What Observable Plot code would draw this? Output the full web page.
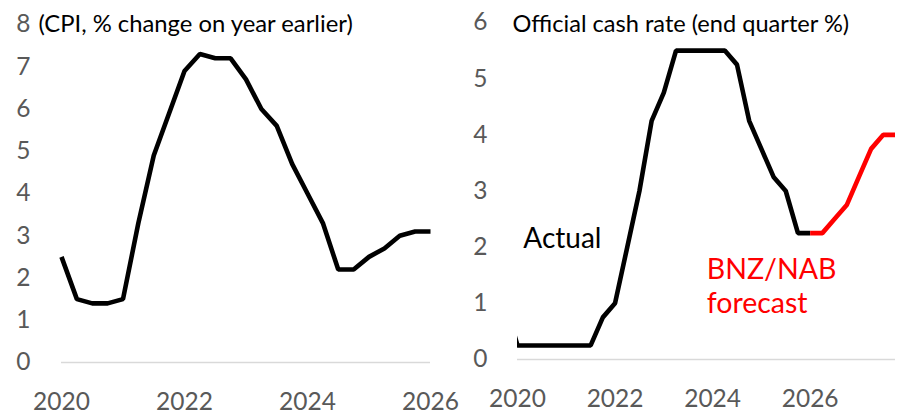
<!DOCTYPE html>
<html>
<head>
<meta charset="utf-8">
<script src="https://cdn.jsdelivr.net/npm/d3@7"></script>
<script src="https://cdn.jsdelivr.net/npm/@observablehq/plot@0.6"></script>
<style>
  html, body { margin: 0; padding: 0; background: #fff; }
  #wrap { position: relative; width: 902px; height: 414px; overflow: hidden; font-family: Lato, sans-serif; }
  #left, #right { position: absolute; top: 0; }
  #left { left: 0; }
  #right { left: 450px; }
  svg { overflow: visible; }
</style>
</head>
<body>
<div id="wrap"><div id="left"></div><div id="right"></div></div>
<script>
// ---- Data ----
const cpiQuarters = ["2020Q1","2020Q2","2020Q3","2020Q4","2021Q1","2021Q2","2021Q3","2021Q4",
  "2022Q1","2022Q2","2022Q3","2022Q4","2023Q1","2023Q2","2023Q3","2023Q4",
  "2024Q1","2024Q2","2024Q3","2024Q4","2025Q1","2025Q2","2025Q3","2025Q4","2026Q1"];
const cpiValues = [2.5,1.5,1.4,1.4,1.5,3.3,4.9,5.9,6.9,7.3,7.2,7.2,6.7,6.0,5.6,4.7,4.0,3.3,2.2,2.2,2.5,2.7,3.0,3.1,3.1];

const ocrActualQuarters = ["2019Q4","2020Q1","2020Q2","2020Q3","2020Q4","2021Q1","2021Q2","2021Q3","2021Q4",
  "2022Q1","2022Q2","2022Q3","2022Q4","2023Q1","2023Q2","2023Q3","2023Q4",
  "2024Q1","2024Q2","2024Q3","2024Q4","2025Q1","2025Q2","2025Q3","2025Q4","2026Q1"];
const ocrActualValues = [1.0,0.25,0.25,0.25,0.25,0.25,0.25,0.25,0.75,1.0,2.0,3.0,4.25,4.75,5.5,5.5,5.5,5.5,5.5,5.25,4.25,3.75,3.25,3.0,2.25,2.25];

const ocrForecastQuarters = ["2026Q1","2026Q2","2026Q3","2026Q4","2027Q1","2027Q2","2027Q3","2027Q4"];
const ocrForecastValues = [2.25,2.25,2.5,2.75,3.25,3.75,4.0,4.0];

const xTicks = [2020, 2022, 2024, 2026];
const cpiYTicks = [0,1,2,3,4,5,6,7,8];
const ocrYTicks = [0,1,2,3,4,5,6];

const leftTitle = "(CPI, % change on year earlier)";
const rightTitle = "Official cash rate (end quarter %)";
const actualLabel = "Actual";
const forecastLabel = "BNZ/NAB\nforecast";

// quarter string -> decimal year (Q1 plotted at the year mark)
const qx = s => +s.slice(0,4) + (+s.slice(5) - 1) / 4;

const cpi = cpiQuarters.map((q,i) => ({x: qx(q), y: cpiValues[i]}));
const ocrA = ocrActualQuarters.map((q,i) => ({x: qx(q), y: ocrActualValues[i]}));
const ocrF = ocrForecastQuarters.map((q,i) => ({x: qx(q), y: ocrForecastValues[i]}));

const tickColor = "#595959";
const red = "#ff0000";
const fmt = d => String(d);

const left = Plot.plot({
  width: 450, height: 414,
  marginLeft: 61, marginRight: 20, marginTop: 24, marginBottom: 52,
  style: {background: "transparent", fontFamily: "Lato, sans-serif", overflow: "visible"},
  x: {domain: [2020, 2026], ticks: xTicks, tickFormat: fmt, label: null},
  y: {domain: [0, 8], ticks: cpiYTicks, tickFormat: fmt, label: null},
  marks: [
    Plot.ruleY([0], {stroke: "#d9d9d9", strokeWidth: 1.5}),
    Plot.axisX({ticks: xTicks, tickSize: 0, tickPadding: 30, fontSize: 24.5, fill: tickColor, tickFormat: fmt, label: null}),
    Plot.axisY({ticks: cpiYTicks, tickSize: 0, tickPadding: 31, fontSize: 24.5, fill: tickColor, tickFormat: fmt, label: null}),
    Plot.line(cpi, {x: "x", y: "y", stroke: "#000", strokeWidth: 4.6, strokeLinejoin: "miter", strokeLinecap: "butt"}),
    Plot.text([leftTitle], {frameAnchor: "top-left", dx: -23, dy: 0, text: d => d, fontSize: 23.8, fill: "#000", textAnchor: "start", lineAnchor: "middle"})
  ]
});
document.getElementById("left").appendChild(left);

const right = Plot.plot({
  width: 452, height: 414,
  marginLeft: 67, marginRight: 7, marginTop: 22, marginBottom: 55,
  style: {background: "transparent", fontFamily: "Lato, sans-serif", overflow: "visible"},
  x: {domain: [2020, 2027.75], ticks: xTicks, tickFormat: fmt, label: null},
  y: {domain: [0, 6], ticks: ocrYTicks, tickFormat: fmt, label: null},
  marks: [
    Plot.ruleY([0], {stroke: "#d9d9d9", strokeWidth: 1.5}),
    Plot.axisX({ticks: xTicks, tickSize: 0, tickPadding: 30, fontSize: 24.5, fill: tickColor, tickFormat: fmt, label: null}),
    Plot.axisY({ticks: ocrYTicks, tickSize: 0, tickPadding: 30, fontSize: 24.5, fill: tickColor, tickFormat: fmt, label: null}),
    Plot.line(ocrA, {x: "x", y: "y", stroke: "#000", strokeWidth: 4.6, strokeLinejoin: "miter", strokeLinecap: "butt", clip: true}),
    Plot.line(ocrF, {x: "x", y: "y", stroke: red, strokeWidth: 4.6, strokeLinejoin: "miter", strokeLinecap: "butt", clip: true}),
    Plot.text([rightTitle], {frameAnchor: "top-left", dx: -5, dy: 2, text: d => d, fontSize: 23.6, fill: "#000", textAnchor: "start", lineAnchor: "middle"}),
    Plot.text([actualLabel], {x: () => 2020.12, y: () => 2.15, text: d => d, fontSize: 28, fill: "#000", textAnchor: "start", lineAnchor: "middle"}),
    Plot.text([forecastLabel], {x: () => 2023.88, y: () => 1.32, text: d => d, fontSize: 28.5, fill: red, textAnchor: "start", lineAnchor: "middle", lineHeight: 1.2})
  ]
});
document.getElementById("right").appendChild(right);
</script>
</body>
</html>
